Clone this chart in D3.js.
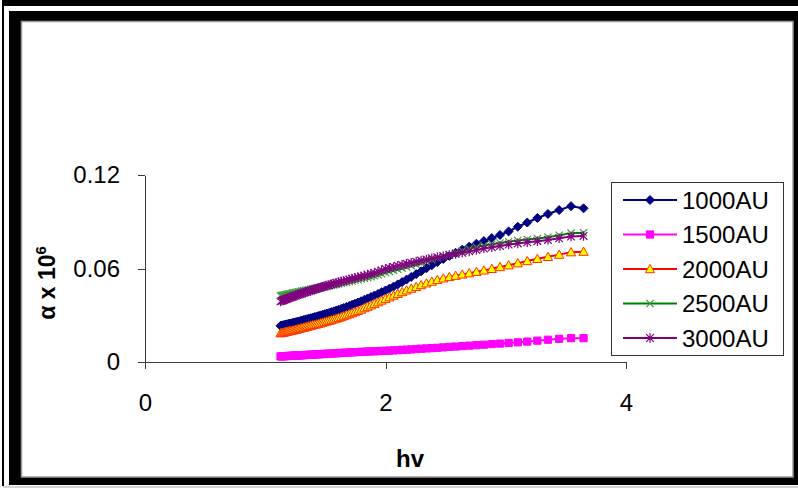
<!doctype html>
<html lang="en">
  <head>
    <meta charset="UTF-8" />
    <title>Absorption coefficient vs photon energy</title>
    <script src="https://d3js.org/d3.v7.min.js"></script>
    <style>
      body {
        margin: 0;
        background-color: #ffffff;
      }

      svg {
        display: block;
        font-family: 'Liberation Sans', Arial, sans-serif;
      }

      .axis path,
      .axis line {
        stroke: #3a3a3a;
        stroke-width: 1;
        shape-rendering: crispEdges;
      }

      .axis text {
        font-size: 24px;
        fill: #000;
        font-family: 'Liberation Sans', Arial, sans-serif;
      }

      .axis-title {
        font-weight: bold;
        fill: #000;
      }

      .legend-label {
        font-size: 24px;
        fill: #000;
      }
    </style>
  </head>
  <body>
    <svg id="chart" width="798" height="488"></svg>

    <script>
      // photon energy (eV)
      const hv = [
        1.127, 1.138, 1.148, 1.159, 1.17, 1.181, 1.192, 1.204, 1.216, 1.228,
        1.24, 1.253, 1.265, 1.278, 1.292, 1.305, 1.319, 1.333, 1.348, 1.363,
        1.378, 1.393, 1.409, 1.425, 1.442, 1.459, 1.476, 1.494, 1.512, 1.531,
        1.55, 1.57, 1.59, 1.61, 1.632, 1.653, 1.676, 1.699, 1.722, 1.746,
        1.771, 1.797, 1.824, 1.851, 1.879, 1.908, 1.938, 1.968, 2.0, 2.033,
        2.067, 2.102, 2.138, 2.175, 2.214, 2.255, 2.296, 2.34, 2.385, 2.431,
        2.48, 2.531, 2.583, 2.638, 2.696, 2.756, 2.818, 2.884, 2.952, 3.024,
        3.1, 3.179, 3.263, 3.351, 3.444, 3.543, 3.647,
      ]

      // alpha x 10^6 for each thickness
      const a1000 = [
        0.0232, 0.0234, 0.0236, 0.0238, 0.024, 0.0242, 0.0244, 0.0246, 0.0248, 0.025,
        0.0253, 0.0255, 0.0258, 0.026, 0.0263, 0.0266, 0.0269, 0.0272, 0.0275, 0.0278,
        0.0281, 0.0284, 0.0288, 0.0291, 0.0295, 0.0299, 0.0303, 0.0307, 0.0311, 0.0315,
        0.032, 0.0325, 0.033, 0.0335, 0.0341, 0.0347, 0.0353, 0.036, 0.0367, 0.0374,
        0.0382, 0.039, 0.0399, 0.0408, 0.0417, 0.0427, 0.0437, 0.0448, 0.0459, 0.0471,
        0.0484, 0.0498, 0.0513, 0.0529, 0.0546, 0.0564, 0.0582, 0.0601, 0.0621, 0.0641,
        0.0661, 0.0681, 0.0701, 0.0721, 0.074, 0.0759, 0.0776, 0.0795, 0.0815, 0.0838,
        0.0868, 0.0895, 0.0924, 0.095, 0.0975, 0.1, 0.0986,
      ]

      const a1500 = [
        0.0036, 0.0036, 0.0037, 0.0037, 0.0038, 0.0038, 0.0039, 0.0039, 0.004, 0.004,
        0.0041, 0.0041, 0.0042, 0.0042, 0.0043, 0.0043, 0.0044, 0.0045, 0.0045, 0.0046,
        0.0047, 0.0047, 0.0048, 0.0049, 0.0049, 0.005, 0.0051, 0.0052, 0.0053, 0.0053,
        0.0054, 0.0055, 0.0056, 0.0057, 0.0058, 0.0059, 0.006, 0.0061, 0.0062, 0.0063,
        0.0064, 0.0065, 0.0066, 0.0067, 0.0068, 0.0069, 0.007, 0.0071, 0.0072, 0.0073,
        0.0075, 0.0076, 0.0078, 0.0079, 0.0081, 0.0083, 0.0085, 0.0087, 0.0089, 0.0091,
        0.0094, 0.0097, 0.0099, 0.0102, 0.0105, 0.0108, 0.0111, 0.0115, 0.0118, 0.0122,
        0.0126, 0.0131, 0.0137, 0.0143, 0.0149, 0.0153, 0.0153,
      ]

      const a2000 = [
        0.0185, 0.0187, 0.0189, 0.0191, 0.0193, 0.0195, 0.0197, 0.0199, 0.0201, 0.0203,
        0.0205, 0.0208, 0.021, 0.0213, 0.0216, 0.0218, 0.0221, 0.0224, 0.0227, 0.023,
        0.0233, 0.0236, 0.0239, 0.0242, 0.0246, 0.0249, 0.0253, 0.0257, 0.0261, 0.0265,
        0.0269, 0.0274, 0.0279, 0.0284, 0.0289, 0.0295, 0.0301, 0.0307, 0.0314, 0.0321,
        0.0329, 0.0337, 0.0346, 0.0355, 0.0364, 0.0374, 0.0384, 0.0395, 0.0406, 0.0416,
        0.0427, 0.0438, 0.0449, 0.046, 0.0471, 0.0482, 0.0494, 0.0505, 0.0516, 0.0527,
        0.0537, 0.0546, 0.0554, 0.0562, 0.057, 0.0579, 0.0588, 0.0598, 0.061, 0.0621,
        0.0634, 0.0648, 0.0662, 0.0675, 0.0689, 0.0705, 0.0708,
      ]

      const a2500 = [
        0.0424, 0.0426, 0.0428, 0.043, 0.0432, 0.0434, 0.0436, 0.0438, 0.044, 0.0442,
        0.0444, 0.0446, 0.0448, 0.0451, 0.0453, 0.0455, 0.0457, 0.0459, 0.0462, 0.0464,
        0.0466, 0.0468, 0.0471, 0.0473, 0.0476, 0.0478, 0.0481, 0.0483, 0.0486, 0.0489,
        0.0492, 0.0495, 0.0498, 0.0501, 0.0505, 0.0508, 0.0512, 0.0516, 0.052, 0.0524,
        0.0528, 0.0533, 0.0538, 0.0543, 0.0548, 0.0553, 0.0559, 0.0566, 0.0574, 0.0581,
        0.0588, 0.0595, 0.0602, 0.061, 0.0618, 0.0626, 0.0635, 0.0645, 0.0656, 0.0667,
        0.0678, 0.0689, 0.0701, 0.0714, 0.0726, 0.0737, 0.0747, 0.0756, 0.0764, 0.0772,
        0.078, 0.0786, 0.0793, 0.0801, 0.0814, 0.0827, 0.083,
      ]

      const a3000 = [
        0.0389, 0.0393, 0.0396, 0.0399, 0.0403, 0.0406, 0.0409, 0.0413, 0.0416, 0.0419,
        0.0423, 0.0426, 0.0429, 0.0433, 0.0437, 0.044, 0.0444, 0.0447, 0.0451, 0.0455,
        0.0458, 0.0462, 0.0466, 0.047, 0.0474, 0.0478, 0.0482, 0.0486, 0.049, 0.0494,
        0.0498, 0.0503, 0.0507, 0.0511, 0.0516, 0.052, 0.0525, 0.0529, 0.0534, 0.0539,
        0.0544, 0.0549, 0.0554, 0.056, 0.0566, 0.0572, 0.058, 0.0588, 0.0597, 0.0604,
        0.061, 0.0617, 0.0623, 0.063, 0.0637, 0.0644, 0.0651, 0.0658, 0.0666, 0.0673,
        0.0679, 0.0686, 0.0693, 0.0701, 0.071, 0.0719, 0.0728, 0.0737, 0.0745, 0.0754,
        0.0761, 0.0768, 0.0775, 0.0783, 0.0794, 0.0805, 0.0809,
      ]

      const seriesNames = ['1000AU', '1500AU', '2000AU', '2500AU', '3000AU']
      const xTicks = [0, 2, 4]
      const yTicks = [0, 0.06, 0.12]

      // styling per series (Excel-like)
      const styles = {
        '1000AU': { line: '#000080', marker: 'diamond', fill: '#000080', stroke: '#000080' },
        '1500AU': { line: '#FF00FF', marker: 'square', fill: '#FF00FF', stroke: '#FF00FF' },
        '2000AU': { line: '#FF0000', marker: 'triangle', fill: '#FFFF00', stroke: '#FF3300' },
        '2500AU': { line: '#008000', marker: 'times', fill: 'none', stroke: '#3c9a3c' },
        '3000AU': { line: '#800080', marker: 'asterisk', fill: 'none', stroke: '#800080' },
      }

      const series = [a1000, a1500, a2000, a2500, a3000].map((vals, i) => ({
        name: seriesNames[i],
        points: vals.map((v, j) => ({ x: hv[j], y: v })),
      }))

      const svg = d3.select('#chart')

      // ---- outer frame (black borders like the pasted Excel picture) ----
      svg.append('rect').attr('x', 3).attr('y', 0).attr('width', 795).attr('height', 6).attr('fill', '#000')
      svg.append('rect').attr('x', 2).attr('y', 0).attr('width', 2).attr('height', 486).attr('fill', '#000')
      svg.append('rect').attr('x', 9).attr('y', 11).attr('width', 789).attr('height', 474).attr('fill', '#000')
      svg.append('rect').attr('x', 3).attr('y', 486.5).attr('width', 795).attr('height', 1).attr('fill', '#aaa')
      svg
        .append('rect')
        .attr('x', 21.5)
        .attr('y', 21.5)
        .attr('width', 771.5)
        .attr('height', 455.5)
        .attr('fill', '#fff')
        .attr('stroke', '#999')
        .attr('stroke-width', 1.5)

      // ---- scales ----
      const x = d3.scaleLinear().domain([0, 4]).range([145, 626])
      const y = d3.scaleLinear().domain([0, 0.12]).range([362, 175])

      // ---- axes ----
      svg
        .append('g')
        .attr('class', 'axis')
        .attr('transform', `translate(${x(0)},0)`)
        .call(
          d3
            .axisLeft(y)
            .tickValues(yTicks)
            .tickSize(7)
            .tickSizeOuter(0)
            .tickPadding(18)
            .tickFormat((d) => (d === 0 ? '0' : d.toFixed(2)))
        )

      svg
        .append('g')
        .attr('class', 'axis')
        .attr('transform', `translate(0,${y(0)})`)
        .call(
          d3
            .axisBottom(x)
            .tickValues(xTicks)
            .tickSize(7)
            .tickSizeOuter(0)
            .tickPadding(25)
            .tickFormat((d) => String(d))
        )

      // axis titles
      svg
        .append('text')
        .attr('class', 'axis-title')
        .attr('x', 410)
        .attr('y', 467)
        .attr('text-anchor', 'middle')
        .style('font-size', '24px')
        .text('hv')

      const yTitle = svg
        .append('text')
        .attr('class', 'axis-title')
        .attr('transform', 'translate(55,283) rotate(-90)')
        .attr('text-anchor', 'middle')
        .style('font-size', '23px')
      yTitle.append('tspan').text('α x 10')
      yTitle.append('tspan').attr('dy', -9).style('font-size', '15px').text('6')

      // ---- marker shapes ----
      function markerPath(type, r) {
        if (type === 'diamond') return `M0,${-r}L${r},0L0,${r}L${-r},0Z`
        if (type === 'square') return `M${-r},${-r}H${r}V${r}H${-r}Z`
        if (type === 'triangle') return `M0,${-r}L${r},${r * 0.8}L${-r},${r * 0.8}Z`
        if (type === 'times') return `M${-r},${-r}L${r},${r}M${-r},${r}L${r},${-r}`
        // asterisk: times + vertical bar
        return `M${-r},${-r}L${r},${r}M${-r},${r}L${r},${-r}M0,${-r - 1}L0,${r + 1}`
      }
      const markerSize = { diamond: 4.5, square: 3.6, triangle: 4.6, times: 3.6, asterisk: 3.8 }

      const line = d3
        .line()
        .x((d) => x(d.x))
        .y((d) => y(d.y))

      // ---- series ----
      series.forEach((s) => {
        const st = styles[s.name]
        const g = svg.append('g')
        g.append('path')
          .datum(s.points)
          .attr('d', line)
          .attr('fill', 'none')
          .attr('stroke', st.line)
          .attr('stroke-width', 2)

        g.selectAll('path.mk')
          .data(s.points)
          .enter()
          .append('path')
          .attr('class', 'mk')
          .attr('transform', (d) => `translate(${x(d.x)},${y(d.y)})`)
          .attr('d', markerPath(st.marker, markerSize[st.marker]))
          .attr('fill', st.fill)
          .attr('stroke', st.stroke)
          .attr('stroke-width', st.fill === 'none' ? 1.2 : 1)
      })

      // ---- legend ----
      const legend = svg.append('g')
      legend
        .append('rect')
        .attr('x', 611.5)
        .attr('y', 182.5)
        .attr('width', 172)
        .attr('height', 173)
        .attr('fill', '#fff')
        .attr('stroke', '#333')
        .attr('stroke-width', 1)

      seriesNames.forEach((name, i) => {
        const st = styles[name]
        const cy = 200 + i * 34.5
        legend
          .append('line')
          .attr('x1', 623)
          .attr('x2', 677)
          .attr('y1', cy)
          .attr('y2', cy)
          .attr('stroke', st.line)
          .attr('stroke-width', 2)
        legend
          .append('path')
          .attr('transform', `translate(650,${cy})`)
          .attr('d', markerPath(st.marker, markerSize[st.marker]))
          .attr('fill', st.fill)
          .attr('stroke', st.stroke)
          .attr('stroke-width', st.fill === 'none' ? 1.2 : 1)
        legend
          .append('text')
          .attr('class', 'legend-label')
          .attr('x', 682)
          .attr('y', cy + 8.5)
          .text(name)
      })
    </script>
  </body>
</html>
